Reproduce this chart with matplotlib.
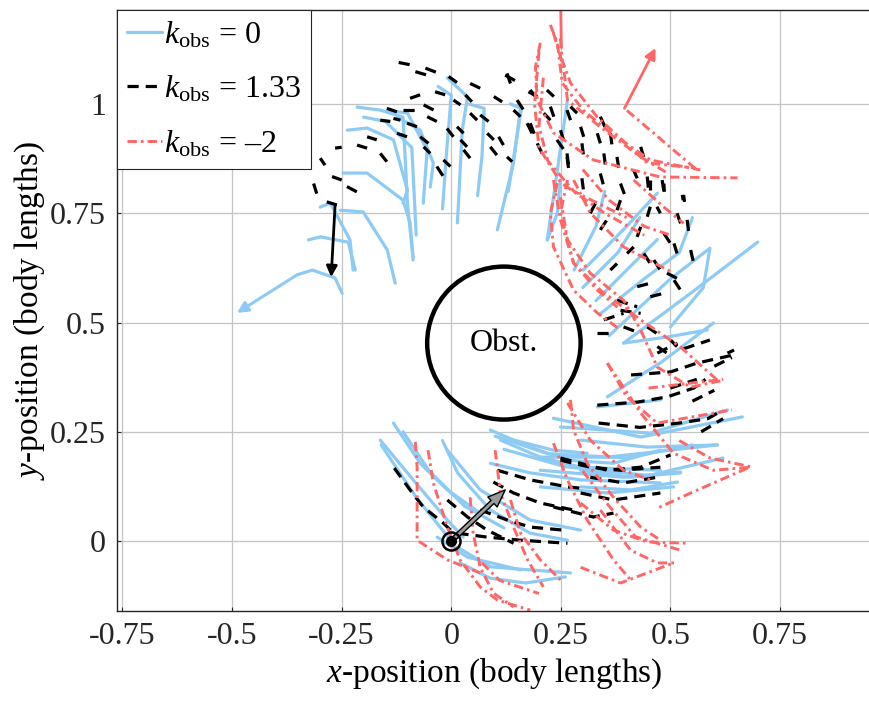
import matplotlib
matplotlib.use('Agg')
import matplotlib.pyplot as plt
from matplotlib.lines import Line2D
from matplotlib.patches import Circle

plt.rcParams['font.family'] = ['Liberation Serif', 'DejaVu Serif']
plt.rcParams['mathtext.fontset'] = 'custom'
plt.rcParams['mathtext.rm'] = 'Liberation Serif'
plt.rcParams['mathtext.it'] = 'Liberation Serif:italic'

# ---------------- data (body lengths) ----------------
x_ticks = [-0.75, -0.5, -0.25, 0, 0.25, 0.5, 0.75]
x_tick_labels = ['-0.75', '-0.5', '-0.25', '0', '0.25', '0.5', '0.75']
y_ticks = [0, 0.25, 0.5, 0.75, 1]
y_tick_labels = ['0', '0.25', '0.5', '0.75', '1']

series_labels = [r'$k_{\mathrm{obs}}$ = 0', r'$k_{\mathrm{obs}}$ = 1.33', r'$k_{\mathrm{obs}}$ = –2']

obstacle_center = (0.12, 0.453)
obstacle_radius = 0.175
start_point = (0.0, 0.0)
start_arrow_tip = (0.123, 0.117)

# k_obs = 0 (blue) body midlines
blue_start = [
    [(-0.132, 0.270), (-0.071, 0.178), (-0.009, 0.117), (0.066, 0.064)],
    [(-0.162, 0.231), (-0.087, 0.140), (-0.009, 0.048), (0.027, 0.009)],
    [(-0.020, 0.230), (0.015, 0.155), (0.090, 0.070)],
    [(-0.009, 0.208), (0.066, 0.117), (0.180, 0.048), (0.295, 0.025)],
    [(0.014, -0.014), (0.089, -0.059), (0.272, -0.073)],
    [(-0.032, 0.009), (0.037, -0.037), (0.158, -0.066)],
    [(0.020, -0.050), (0.089, -0.085), (0.169, -0.096), (0.260, -0.082)],
    [(-0.160, 0.220), (-0.080, 0.100), (0.000, 0.000)],
    [(0.089, 0.071), (0.180, 0.018), (0.265, 0.002)],
    [(-0.110, 0.250), (-0.050, 0.160), (0.030, 0.080), (0.120, 0.030)],
]
blue_lower = [
    [(0.233, 0.281), (0.432, 0.238), (0.664, 0.284)],
    [(0.249, 0.261), (0.454, 0.247), (0.630, 0.300)],
    [(0.203, 0.192), (0.356, 0.192), (0.607, 0.220)],
    [(0.203, 0.162), (0.393, 0.146), (0.523, 0.158)],
    [(0.203, 0.124), (0.356, 0.110), (0.507, 0.124)],
    [(0.089, 0.254), (0.180, 0.215), (0.265, 0.185), (0.370, 0.178), (0.477, 0.208)],
    [(0.112, 0.231), (0.203, 0.192), (0.295, 0.169), (0.477, 0.162)],
    [(0.142, 0.231), (0.233, 0.208), (0.310, 0.201)],
    [(0.089, 0.178), (0.180, 0.156), (0.295, 0.140), (0.477, 0.133)],
    [(0.333, 0.307), (0.477, 0.323)],
    [(0.295, 0.231), (0.447, 0.215), (0.607, 0.220)],
    [(0.295, 0.162), (0.409, 0.146), (0.523, 0.156)],
    [(0.295, 0.124), (0.409, 0.117), (0.516, 0.135)],
    [(0.100, 0.240), (0.220, 0.200), (0.400, 0.190), (0.550, 0.220)],
    [(0.120, 0.210), (0.260, 0.170), (0.450, 0.150), (0.620, 0.190)],
]
blue_right = [
    [(0.219, 0.689), (0.242, 0.751), (0.249, 0.826)],
    [(0.301, 0.620), (0.400, 0.720), (0.470, 0.796)],
    [(0.393, 0.453), (0.550, 0.570), (0.699, 0.684)],
    [(0.360, 0.470), (0.500, 0.600), (0.590, 0.670), (0.575, 0.580), (0.500, 0.490)],
    [(0.356, 0.330), (0.480, 0.410), (0.598, 0.499)],
    [(0.330, 0.550), (0.400, 0.620), (0.470, 0.690)],
    [(0.340, 0.520), (0.440, 0.600), (0.520, 0.660), (0.550, 0.740)],
    [(0.393, 0.453), (0.493, 0.467), (0.584, 0.483)],
    [(0.300, 0.580), (0.380, 0.660), (0.430, 0.740)],
    [(0.280, 0.620), (0.330, 0.720), (0.350, 0.800)],
]
blue_top = [
    [(-0.215, 0.993), (-0.162, 0.986), (-0.110, 0.970), (-0.100, 0.773), (-0.087, 0.643)],
    [(-0.237, 0.940), (-0.192, 0.945), (-0.132, 0.918), (-0.100, 0.803), (-0.110, 0.773)],
    [(-0.146, 0.986), (-0.100, 0.979), (-0.055, 0.895), (-0.064, 0.773)],
    [(-0.123, 0.970), (-0.071, 0.940), (-0.041, 0.865), (-0.048, 0.810)],
    [(-0.009, 1.060), (0.037, 1.016), (0.025, 0.940), (0.014, 0.728)],
    [(0.158, 0.993), (0.142, 0.865), (0.105, 0.712)],
    [(0.265, 1.009), (0.242, 0.849), (0.219, 0.689)],
    [(0.040, 1.000), (0.075, 0.990), (0.070, 0.880), (0.060, 0.790)],
    [(0.135, 1.000), (0.160, 0.990), (0.130, 0.800)],
    [(-0.200, 0.970), (-0.150, 0.960), (-0.090, 0.900), (-0.080, 0.700)],
    [(-0.030, 1.040), (0.000, 1.020), (-0.010, 0.900), (-0.020, 0.760)],
]
blue_tail = [
    [(-0.326, 0.689), (-0.299, 0.696), (-0.235, 0.684), (-0.219, 0.620)],
    [(-0.299, 0.764), (-0.276, 0.773), (-0.231, 0.689), (-0.224, 0.620)],
    [(-0.253, 0.757), (-0.201, 0.753), (-0.146, 0.666), (-0.128, 0.590)],
    [(-0.247, 0.842), (-0.192, 0.842), (-0.110, 0.780), (-0.094, 0.728), (-0.087, 0.650)],
]
blue_final = [(-0.249, 0.567), (-0.265, 0.602), (-0.317, 0.620), (-0.352, 0.609), (-0.489, 0.522)]

# k_obs = 1.33 (black dashed) body midlines
black_lower = [
    [(-0.130, 0.167), (-0.094, 0.117), (-0.064, 0.078), (-0.018, 0.041), (0.005, 0.018)],
    [(-0.009, 0.094), (0.037, 0.055), (0.082, 0.025), (0.142, -0.005)],
    [(0.105, 0.162), (0.180, 0.140), (0.265, 0.124), (0.295, 0.121)],
    [(0.096, 0.135), (0.142, 0.110), (0.203, 0.087), (0.279, 0.071)],
    [(0.066, 0.071), (0.128, 0.048), (0.180, 0.032), (0.256, 0.025)],
    [(0.014, 0.018), (0.082, 0.009), (0.158, 0.002), (0.265, -0.005)],
    [(0.249, 0.185), (0.317, 0.169), (0.386, 0.162), (0.477, 0.169)],
    [(0.295, 0.110), (0.370, 0.094), (0.477, 0.110)],
    [(0.233, 0.078), (0.324, 0.055), (0.370, 0.064)],
    [(0.249, 0.190), (0.356, 0.162), (0.432, 0.169), (0.500, 0.197)],
    [(0.317, 0.146), (0.393, 0.133), (0.470, 0.146)],
]
black_side = [
    [(0.410, 0.380), (0.500, 0.387), (0.560, 0.407), (0.640, 0.425)],
    [(0.333, 0.311), (0.425, 0.318), (0.493, 0.330), (0.553, 0.350), (0.580, 0.370)],
    [(0.336, 0.270), (0.430, 0.260), (0.520, 0.270), (0.585, 0.280), (0.620, 0.300)],
    [(0.470, 0.430), (0.516, 0.453)],
    [(0.530, 0.440), (0.590, 0.460)],
    [(0.600, 0.400), (0.640, 0.420)],
    [(0.500, 0.350), (0.560, 0.370)],
    [(0.550, 0.320), (0.600, 0.345)],
    [(0.570, 0.250), (0.620, 0.280)],
]
black_strokes = [
    ((0.454, 0.826), (0.454, 0.803)), ((0.485, 0.818), (0.486, 0.799)),
    ((0.530, 0.792), (0.532, 0.776)), ((0.515, 0.750), (0.523, 0.727)),
    ((0.538, 0.735), (0.542, 0.704)), ((0.454, 0.765), (0.447, 0.742)),
    ((0.469, 0.765), (0.477, 0.750)), ((0.432, 0.719), (0.424, 0.696)),
    ((0.485, 0.704), (0.500, 0.681)), ((0.508, 0.681), (0.515, 0.658)),
    ((0.546, 0.666), (0.553, 0.635)), ((0.439, 0.658), (0.454, 0.635)),
    ((0.462, 0.643), (0.477, 0.620)), ((0.363, 0.620), (0.378, 0.635)),
    ((0.401, 0.658), (0.416, 0.673)), ((0.340, 0.712), (0.355, 0.735)),
    ((0.317, 0.750), (0.329, 0.773)), ((0.378, 0.757), (0.386, 0.780)),
    ((0.492, 0.613), (0.523, 0.597)), ((0.508, 0.597), (0.523, 0.574)),
    ((0.424, 0.582), (0.454, 0.590)), ((0.454, 0.559), (0.485, 0.567)),
    ((0.378, 0.551), (0.424, 0.536)), ((0.386, 0.528), (0.432, 0.521)),
    ((0.348, 0.506), (0.393, 0.521)), ((0.333, 0.475), (0.371, 0.475)),
    ((0.393, 0.490), (0.432, 0.475)), ((0.447, 0.490), (0.469, 0.475)),
    ((0.470, 0.445), (0.492, 0.430)), ((0.500, 0.460), (0.515, 0.445)),
    ((0.630, 0.430), (0.645, 0.437)),
    ((0.123, 1.066), (0.150, 1.051)), ((0.180, 1.032), (0.196, 1.013)),
    ((0.218, 1.032), (0.234, 1.017)), ((0.150, 1.009), (0.165, 0.986)),
    ((0.180, 0.956), (0.192, 0.925)), ((0.226, 0.994), (0.234, 0.971)),
    ((0.249, 0.940), (0.256, 0.918)), ((0.264, 0.986), (0.272, 0.963)),
    ((0.295, 0.948), (0.302, 0.925)), ((0.340, 0.971), (0.352, 0.944)),
    ((0.333, 0.933), (0.340, 0.910)), ((0.363, 0.933), (0.367, 0.902)),
    ((0.264, 0.887), (0.268, 0.856)), ((0.298, 0.910), (0.302, 0.879)),
    ((0.298, 0.830), (0.302, 0.799)), ((0.348, 0.887), (0.352, 0.856)),
    ((0.340, 0.841), (0.348, 0.811)), ((0.378, 0.879), (0.382, 0.853)),
    ((0.416, 0.849), (0.424, 0.830)), ((0.432, 0.902), (0.439, 0.879)),
    ((0.447, 0.834), (0.450, 0.803)), ((0.481, 0.826), (0.485, 0.799)),
    ((0.386, 0.818), (0.397, 0.788)), ((0.527, 0.792), (0.529, 0.780)),
    ((-0.120, 1.095), (-0.090, 1.089)), ((-0.082, 1.074), (-0.055, 1.066)),
    ((-0.059, 1.082), (-0.033, 1.072)), ((-0.006, 1.063), (0.013, 1.049)),
    ((0.043, 1.047), (0.066, 1.036)), ((0.097, 1.017), (0.116, 1.005)),
    ((0.127, 1.070), (0.135, 1.047)), ((0.176, 1.028), (0.196, 1.017)),
    ((-0.094, 1.013), (-0.071, 1.021)), ((-0.037, 1.028), (-0.014, 1.021)),
    ((0.005, 1.009), (0.021, 0.998)), ((0.032, 1.021), (0.047, 1.005)),
    ((0.066, 0.975), (0.085, 0.960)), ((-0.109, 0.986), (-0.082, 0.986)),
    ((-0.063, 0.998), (-0.040, 0.986)), ((-0.147, 0.990), (-0.124, 0.982)),
    ((-0.162, 0.963), (-0.139, 0.960)), ((-0.132, 0.967), (-0.116, 0.963)),
    ((-0.101, 0.956), (-0.078, 0.948)), ((-0.055, 0.971), (-0.033, 0.960)),
    ((-0.010, 0.944), (0.005, 0.925)), ((0.013, 0.948), (0.028, 0.933)),
    ((0.043, 0.979), (0.059, 0.963)), ((0.082, 0.933), (0.097, 0.918)),
    ((0.108, 0.925), (0.119, 0.906)), ((0.089, 0.902), (0.104, 0.883)),
    ((0.127, 0.879), (0.139, 0.868)), ((0.021, 0.918), (0.036, 0.902)),
    ((0.028, 0.895), (0.043, 0.876)), ((-0.018, 0.872), (-0.002, 0.857)),
    ((-0.033, 0.857), (-0.018, 0.834)), ((-0.071, 0.925), (-0.052, 0.910)),
    ((-0.063, 0.902), (-0.048, 0.887)), ((-0.124, 0.933), (-0.101, 0.925)),
    ((-0.192, 0.925), (-0.170, 0.918)), ((-0.215, 0.906), (-0.192, 0.899)),
    ((-0.162, 0.887), (-0.147, 0.868)), ((-0.265, 0.899), (-0.250, 0.901)),
    ((-0.299, 0.876), (-0.288, 0.860)), ((-0.314, 0.818), (-0.307, 0.795)),
    ((-0.272, 0.834), (-0.250, 0.826)), ((-0.238, 0.811), (-0.208, 0.795)),
    ((-0.284, 0.776), (-0.261, 0.769)),
    ((0.142, 0.986), (0.158, 0.971)), ((0.173, 0.956), (0.188, 0.925)),
    ((0.211, 0.979), (0.226, 0.963)), ((0.196, 0.910), (0.211, 0.879)),
    ((0.241, 0.918), (0.257, 0.895)), ((0.264, 0.879), (0.268, 0.849)),
    ((0.272, 0.994), (0.287, 0.979)),
]
black_final = [(-0.265, 0.769), (-0.274, 0.604)]

# k_obs = -2 (red dash-dot) body midlines
red_upper = [
    [(0.226, 1.181), (0.242, 1.140), (0.253, 1.048), (0.301, 0.986), (0.363, 0.934), (0.454, 0.872), (0.568, 0.849)],
    [(0.203, 1.140), (0.192, 1.085), (0.196, 1.009), (0.233, 0.934), (0.324, 0.872), (0.477, 0.833), (0.653, 0.831)],
    [(0.249, 1.150), (0.253, 1.100), (0.272, 1.048), (0.333, 0.970), (0.447, 0.865), (0.553, 0.854)],
    [(0.233, 1.162), (0.256, 1.085), (0.265, 1.009), (0.340, 0.947), (0.432, 0.879), (0.493, 0.842)],
    [(0.200, 1.120), (0.190, 1.000), (0.200, 0.900), (0.250, 0.820), (0.350, 0.750), (0.440, 0.700)],
    [(0.210, 1.060), (0.200, 0.950), (0.220, 0.870), (0.280, 0.800), (0.400, 0.740)],
    [(0.416, 0.826), (0.485, 0.764), (0.530, 0.727)],
    [(0.557, 0.852), (0.395, 0.990)],
]
red_right = [
    [(0.242, 0.819), (0.226, 0.751), (0.233, 0.673), (0.279, 0.574), (0.333, 0.522), (0.386, 0.483)],
    [(0.265, 0.826), (0.249, 0.751), (0.279, 0.636), (0.333, 0.574), (0.379, 0.535)],
    [(0.233, 0.826), (0.249, 0.735), (0.279, 0.636), (0.340, 0.574), (0.432, 0.506), (0.523, 0.444), (0.607, 0.368)],
    [(0.279, 0.826), (0.317, 0.751), (0.393, 0.673), (0.507, 0.613)],
    [(0.249, 0.787), (0.265, 0.689), (0.317, 0.613), (0.393, 0.551), (0.432, 0.483), (0.470, 0.398), (0.546, 0.352), (0.621, 0.368)],
    [(0.356, 0.407), (0.432, 0.293), (0.507, 0.201), (0.598, 0.162), (0.683, 0.169)],
    [(0.265, 0.316), (0.317, 0.231), (0.393, 0.162), (0.454, 0.140)],
    [(0.356, 0.407), (0.400, 0.330), (0.470, 0.270), (0.640, 0.300)],
    [(0.520, 0.230), (0.590, 0.190), (0.683, 0.170), (0.546, 0.110), (0.470, 0.075)],
    [(0.300, 0.850), (0.360, 0.780), (0.440, 0.720), (0.500, 0.700)],
    [(0.450, 0.350), (0.620, 0.370)],
]
red_lower = [
    [(-0.082, 0.227), (-0.078, 0.169), (-0.078, 0.002), (-0.009, -0.043), (0.066, -0.073)],
    [(-0.053, 0.208), (-0.041, 0.133), (-0.009, 0.032), (0.020, -0.043), (0.066, -0.105), (0.105, -0.135), (0.180, -0.158)],
    [(0.043, 0.100), (0.050, 0.018), (0.066, -0.060), (0.096, -0.119), (0.142, -0.151)],
    [(0.100, 0.208), (0.112, 0.110), (0.142, 0.032), (0.174, -0.043), (0.210, -0.105)],
    [(0.135, 0.094), (0.158, 0.018), (0.203, -0.043), (0.249, -0.089)],
    [(0.233, 0.224), (0.265, 0.140), (0.310, 0.048), (0.370, -0.043), (0.409, -0.089)],
    [(0.272, 0.323), (0.279, 0.254), (0.310, 0.178), (0.370, 0.100), (0.432, 0.032), (0.477, 0.002)],
    [(0.295, 0.087), (0.370, 0.025), (0.447, -0.002), (0.539, -0.005)],
    [(0.340, 0.071), (0.409, -0.021), (0.470, -0.050), (0.516, -0.050)],
    [(0.295, -0.060), (0.386, -0.096), (0.507, -0.050)],
    [(0.070, -0.050), (0.110, -0.090), (0.200, -0.120)],
    [(0.300, 0.160), (0.360, 0.080), (0.420, 0.010), (0.520, -0.020)],
]
red_final = [(0.395, 0.990), (0.466, 1.128)]
red_solid = [(0.251, 1.130), (0.249, 1.260)]

# ---------------- styles ----------------
BLUE = '#8DCBF5'
RED = '#FF6666'
blue_kw = dict(color=BLUE, lw=2.3, solid_capstyle='round', solid_joinstyle='round')
black_kw = dict(color='black', lw=2.3, linestyle=(0, (3.5, 2.2)), dash_capstyle='butt')
red_kw = dict(color=RED, lw=2.1, linestyle=(0, (3.2, 1.4, 0.9, 1.4)))

fig = plt.figure(figsize=(8.69, 7.01), dpi=100)
ax = fig.add_axes([0.1346, 0.1284, 0.8675, 0.8573])
ax.set_xlim(-0.7626, 0.957)
ax.set_ylim(-0.160, 1.215)


def draw(lines, **kw):
    for pts in lines:
        ax.plot([p[0] for p in pts], [p[1] for p in pts], **kw)


def arrow(p0, p1, color, lw):
    ax.annotate('', xy=p1, xytext=p0,
                arrowprops=dict(arrowstyle='-|>', color=color, lw=lw,
                                mutation_scale=16, shrinkA=0, shrinkB=0))


# blue
draw(blue_start + blue_lower + blue_right + blue_top + blue_tail, **blue_kw)
draw([blue_final[:-1]], **blue_kw)
arrow(blue_final[-2], blue_final[-1], BLUE, 2.2)

# black
draw(black_lower + black_side, **black_kw)
draw([list(s) for s in black_strokes], **black_kw)
arrow(black_final[0], black_final[1], 'black', 2.0)

# red
draw(red_upper + red_right + red_lower, **red_kw)
arrow(red_final[0], red_final[1], RED, 2.0)
ax.plot([p[0] for p in red_solid], [p[1] for p in red_solid], color=RED, lw=2.0)

# obstacle
ax.add_patch(Circle(obstacle_center, obstacle_radius, fill=False, ec='black', lw=3.2, zorder=5))
ax.text(obstacle_center[0], obstacle_center[1], 'Obst.', ha='center', va='center', fontsize=23, zorder=6)

# start marker and initial heading
ax.annotate('', xy=start_arrow_tip, xytext=start_point,
            arrowprops=dict(arrowstyle='simple,head_length=0.9,head_width=0.7,tail_width=0.22',
                            fc='#9a9a9a', ec='black', lw=1.0, mutation_scale=14,
                            shrinkA=0, shrinkB=0), zorder=7)
ax.plot(*start_point, 'o', ms=13, mfc='none', mec='black', mew=1.8, zorder=8)
ax.plot(*start_point, 'o', ms=7, mfc='black', mec='black', zorder=8)

# axes styling
ax.set_xticks(x_ticks)
ax.set_xticklabels(x_tick_labels)
ax.set_yticks(y_ticks)
ax.set_yticklabels(y_tick_labels)
ax.tick_params(direction='in', length=3, width=0.8, labelsize=23, pad=8, colors='#262626')
ax.grid(True, color='#c4c4c4', lw=0.9)
ax.set_axisbelow(True)
for s in ax.spines.values():
    s.set_color('#262626')
    s.set_linewidth(1.0)
ax.set_xlabel(r'$x$-position (body lengths)', fontsize=24, labelpad=4)
ax.set_ylabel(r'$y$-position (body lengths)', fontsize=24, labelpad=2)

handles = [Line2D([], [], **blue_kw), Line2D([], [], **black_kw), Line2D([], [], **red_kw)]
leg = ax.legend(handles, series_labels, loc='upper left', borderaxespad=0, fontsize=23,
                handlelength=1.1, handletextpad=0.08, labelspacing=0.75, borderpad=0.3,
                frameon=True, fancybox=False, framealpha=1, edgecolor='#262626')
leg.get_frame().set_linewidth(0.8)
leg.set_zorder(20)

fig.savefig('out.png', dpi=100)
